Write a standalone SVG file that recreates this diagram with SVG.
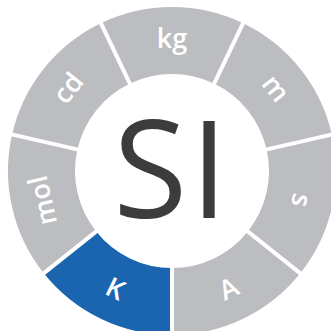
<svg xmlns="http://www.w3.org/2000/svg" width="331" height="331" viewBox="0 0 331 331">
<style>
.seg{fill:#BCBDC0}
.blue{fill:#1B64AF}
.sep{stroke:#fff;stroke-width:4;fill:none}
.u{font-family:"Open Sans","Liberation Sans",sans-serif;font-weight:600;font-size:27px;fill:#fff;text-anchor:middle}
.si{font-family:"Open Sans","Liberation Sans",sans-serif;font-size:135px;fill:#3C3C3C;text-anchor:middle;letter-spacing:3px}
</style>
<rect width="331" height="331" fill="#fff"/>
<g id="seg-kg"><path class="seg" d="M100.84 23.24 A164 164 0 0 1 243.16 23.24 L214.09 83.61 A97 97 0 0 0 129.91 83.61 Z"/>
<text class="u" transform="translate(172 40.5)" y="7">kg</text></g>
<g id="seg-m"><path class="seg" d="M243.16 23.24 A164 164 0 0 1 331.89 134.51 L266.57 149.42 A97 97 0 0 0 214.09 83.61 Z"/>
<text class="u" transform="translate(274.03 89.63) rotate(51.43)" y="7">m</text></g>
<g id="seg-s"><path class="seg" d="M331.89 134.51 A164 164 0 0 1 300.22 273.25 L247.84 231.48 A97 97 0 0 0 266.57 149.42 Z"/>
<text class="u" transform="translate(299.23 200.04) rotate(102.86)" y="7">s</text></g>
<g id="seg-A"><path class="seg" d="M300.22 273.25 A164 164 0 0 1 172 335 L172 268 A97 97 0 0 0 247.84 231.48 Z"/>
<text class="u" transform="translate(228.62 288.58) rotate(-25.71)" y="9.5">A</text></g>
<g id="seg-K"><path class="blue" d="M172 335 A164 164 0 0 1 43.78 273.25 L96.16 231.48 A97 97 0 0 0 172 268 Z"/>
<text class="u" transform="translate(115.38 288.58) rotate(25.71)" y="9.5">K</text></g>
<g id="seg-mol"><path class="seg" d="M43.78 273.25 A164 164 0 0 1 12.11 134.51 L77.43 149.42 A97 97 0 0 0 96.16 231.48 Z"/>
<text class="u" transform="translate(44.77 200.04) rotate(-102.86)" y="7">mol</text></g>
<g id="seg-cd"><path class="seg" d="M12.11 134.51 A164 164 0 0 1 100.84 23.24 L129.91 83.61 A97 97 0 0 0 77.43 149.42 Z"/>
<text class="u" transform="translate(69.97 89.63) rotate(-51.43)" y="7">cd</text></g>
<g id="separators">
<line class="sep" x1="172" y1="265" x2="172" y2="340"/>
<line class="sep" x1="98.5" y1="229.6" x2="39.9" y2="276.4"/>
<line class="sep" x1="80.4" y1="150.1" x2="7.2" y2="133.4"/>
<line class="sep" x1="131.2" y1="86.3" x2="98.7" y2="18.7"/>
<line class="sep" x1="212.8" y1="86.3" x2="245.3" y2="18.7"/>
<line class="sep" x1="263.6" y1="150.1" x2="336.8" y2="133.4"/>
<line class="sep" x1="245.5" y1="229.6" x2="304.1" y2="276.4"/>
</g>
<g id="center"><text class="si" x="172" y="218">SI</text></g>
</svg>
